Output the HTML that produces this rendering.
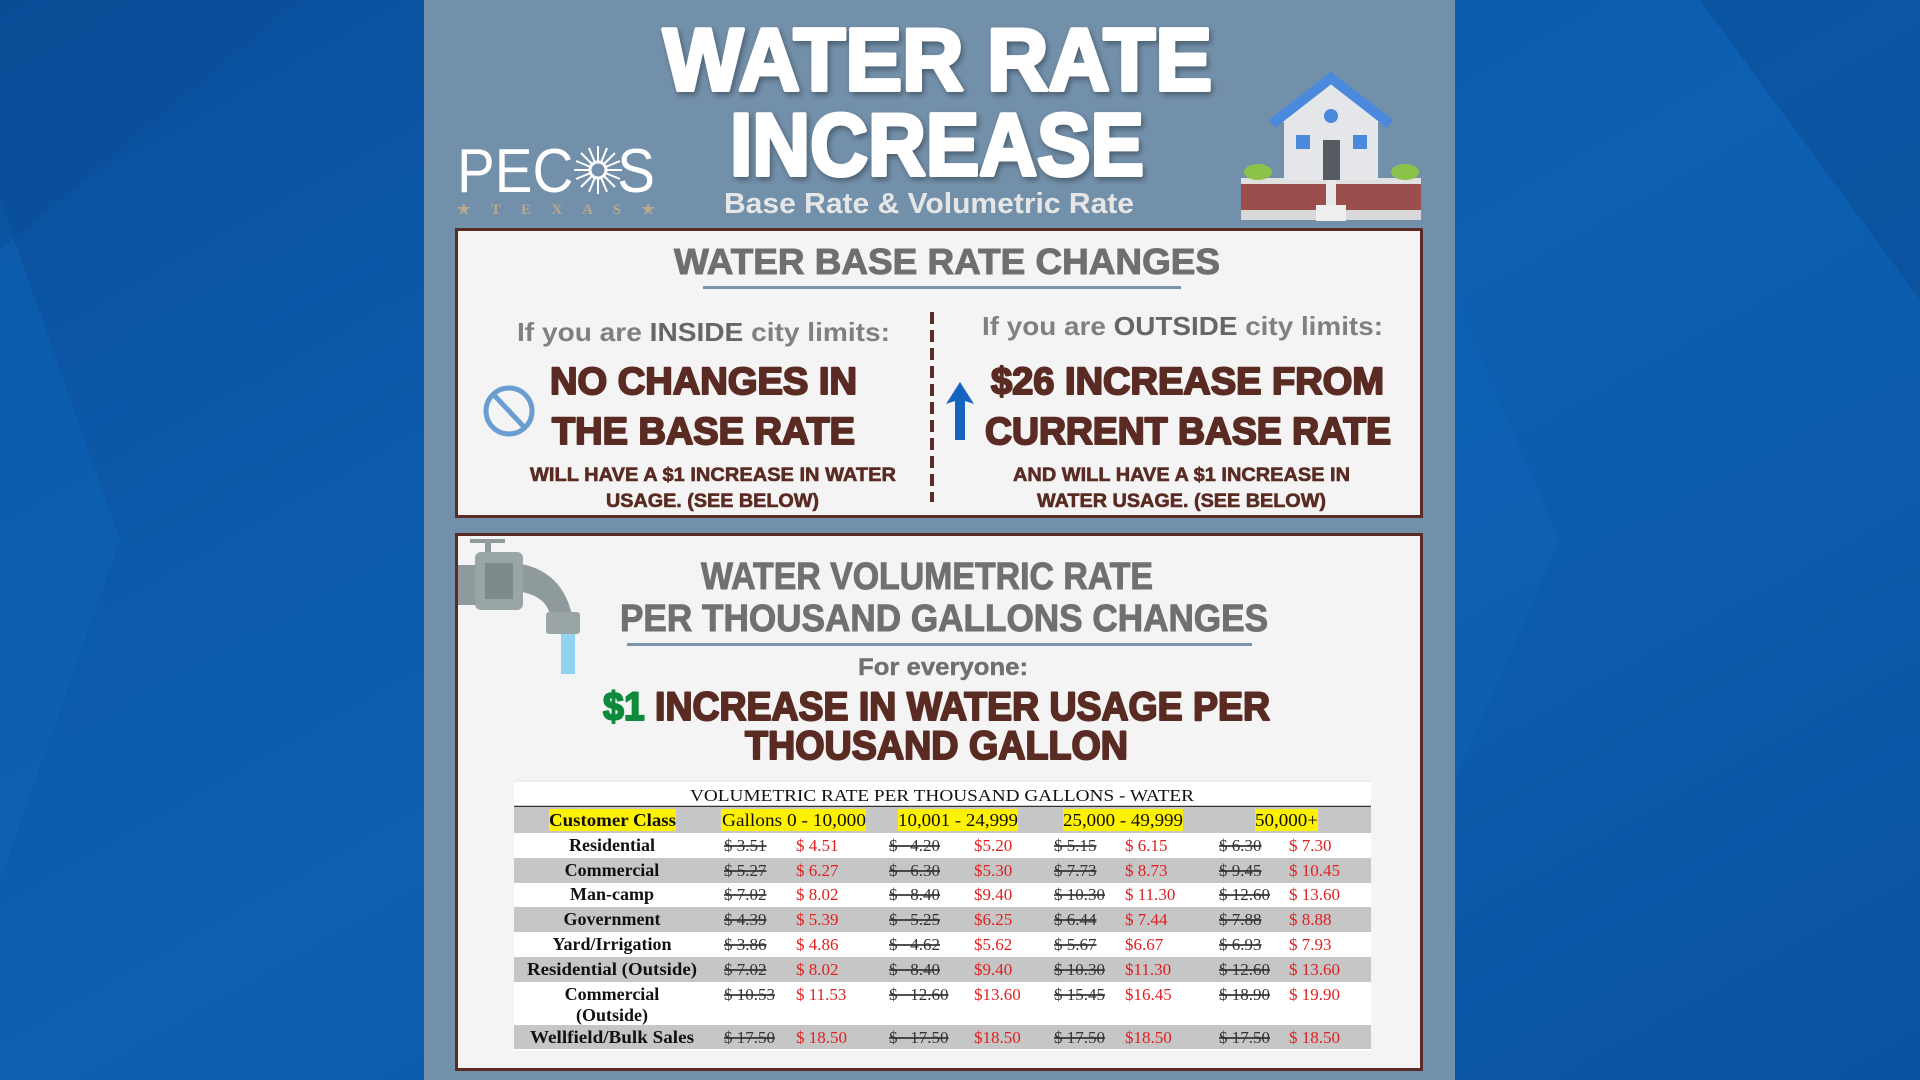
<!DOCTYPE html>
<html><head><meta charset="utf-8"><style>
html,body{margin:0;padding:0;width:1920px;height:1080px;overflow:hidden;background:#0b5cab}
svg{display:block}
text{font-family:"Liberation Sans",sans-serif;font-weight:bold}
.s text,text.s{font-family:"Liberation Serif",serif}
.n text,text.n{font-weight:normal}
</style></head><body>
<svg width="1920" height="1080" viewBox="0 0 1920 1080" xmlns="http://www.w3.org/2000/svg">
<defs>
<linearGradient id="bg" x1="0" y1="0" x2="1" y2="1"><stop offset="0" stop-color="#0a4f9c"/><stop offset=".5" stop-color="#0d60b2"/><stop offset="1" stop-color="#0a52a0"/></linearGradient>
<filter id="sh"><feDropShadow dx="2" dy="3" stdDeviation="3" flood-color="#000" flood-opacity=".35"/></filter>
</defs>
<rect width="1920" height="1080" fill="url(#bg)"/>
<polygon points="0,200 120,540 0,880" fill="#0e63b8" opacity=".5"/>
<polygon points="1455,300 1560,540 1455,780" fill="#0e63b8" opacity=".5"/>
<polygon points="1700,0 1920,0 1920,300" fill="#0a4a92" opacity=".5"/>
<polygon points="0,0 300,0 0,250" fill="#0a4a92" opacity=".4"/>
<rect x="424" y="0" width="1031" height="1080" fill="#7390aa"/>
<g filter="url(#sh)" fill="#fff" stroke="#fff" stroke-width="4" stroke-linejoin="round">
<text x="663" y="90" font-size="88" textLength="549" lengthAdjust="spacingAndGlyphs">WATER RATE</text>
<text x="730" y="175" font-size="88" textLength="414" lengthAdjust="spacingAndGlyphs">INCREASE</text>
</g>
<text x="724" y="213" font-size="29" fill="#e6e6e6" textLength="410" lengthAdjust="spacingAndGlyphs">Base Rate &amp; Volumetric Rate</text>
<text x="457" y="192" font-size="62" fill="#fff" class="n" textLength="198" lengthAdjust="spacingAndGlyphs">PECOS</text>
<circle cx="598" cy="170" r="24" fill="#7390aa"/>
<g stroke="#fff" stroke-width="2">
<line x1="574" y1="170" x2="622" y2="170"/><line x1="598" y1="146" x2="598" y2="194"/>
<line x1="581" y1="153" x2="615" y2="187"/><line x1="615" y1="153" x2="581" y2="187"/>
<line x1="576" y1="161" x2="620" y2="179"/><line x1="576" y1="179" x2="620" y2="161"/>
<line x1="589" y1="148" x2="607" y2="192"/><line x1="607" y1="148" x2="589" y2="192"/>
</g>
<circle cx="598" cy="170" r="8" fill="#7390aa" stroke="#fff" stroke-width="3"/>
<text x="457" y="214" font-size="15" fill="#bba78c" class="s" textLength="198" lengthAdjust="spacing">★ T E X A S ★</text>
<rect x="1241" y="182" width="180" height="32" fill="#9b4f4c"/>
<rect x="1241" y="210" width="180" height="10" fill="#d8d8d8"/>
<rect x="1241" y="178" width="180" height="6" fill="#e0e0e0"/>
<ellipse cx="1258" cy="172" rx="14" ry="8" fill="#8bc34a"/>
<ellipse cx="1405" cy="172" rx="14" ry="8" fill="#8bc34a"/>
<rect x="1284" y="120" width="94" height="60" fill="#e4e6ea"/>
<polygon points="1331,80 1281,122 1381,122" fill="#e4e6ea"/>
<polyline points="1272,124 1331,78 1390,124" fill="none" stroke="#4a89dc" stroke-width="10"/>
<circle cx="1331" cy="116" r="7" fill="#4a89dc"/>
<rect x="1296" y="135" width="14" height="14" fill="#4a89dc"/>
<rect x="1353" y="135" width="14" height="14" fill="#4a89dc"/>
<rect x="1323" y="140" width="17" height="40" fill="#555b63"/>
<rect x="1326" y="180" width="10" height="28" fill="#e8e8e8"/>
<rect x="1316" y="205" width="30" height="16" fill="#eee"/>
<rect x="456.5" y="229.5" width="965" height="287" fill="#f4f4f4" stroke="#5b2b26" stroke-width="3"/>
<text x="674" y="274" font-size="36" fill="#6f6f6f" stroke="#6f6f6f" stroke-width="1" textLength="546" lengthAdjust="spacingAndGlyphs">WATER BASE RATE CHANGES</text>
<rect x="703" y="286" width="478" height="3" fill="#7b93ab"/>
<line x1="932" y1="312" x2="932" y2="502" stroke="#5b2b26" stroke-width="4" stroke-dasharray="12,6"/>
<text x="517" y="341" font-size="26" fill="#808080" textLength="373" lengthAdjust="spacingAndGlyphs">If you are <tspan fill="#666">INSIDE</tspan> city limits:</text>
<text x="982" y="335" font-size="26" fill="#808080" textLength="401" lengthAdjust="spacingAndGlyphs">If you are <tspan fill="#666">OUTSIDE</tspan> city limits:</text>
<g fill="#5a2b22" stroke="#5a2b22" stroke-linejoin="round">
<text x="550" y="394" font-size="38" stroke-width="2" textLength="307" lengthAdjust="spacingAndGlyphs">NO CHANGES IN</text>
<text x="552" y="444" font-size="38" stroke-width="2" textLength="303" lengthAdjust="spacingAndGlyphs">THE BASE RATE</text>
<text x="991" y="394" font-size="38" stroke-width="2" textLength="393" lengthAdjust="spacingAndGlyphs">$26 INCREASE FROM</text>
<text x="985" y="444" font-size="38" stroke-width="2" textLength="406" lengthAdjust="spacingAndGlyphs">CURRENT BASE RATE</text>
<text x="530" y="481" font-size="19" stroke-width=".6" textLength="366" lengthAdjust="spacingAndGlyphs">WILL HAVE A $1 INCREASE IN WATER</text>
<text x="606" y="507" font-size="19" stroke-width=".6" textLength="213" lengthAdjust="spacingAndGlyphs">USAGE. (SEE BELOW)</text>
<text x="1013" y="481" font-size="19" stroke-width=".6" textLength="337" lengthAdjust="spacingAndGlyphs">AND WILL HAVE A $1 INCREASE IN</text>
<text x="1037" y="507" font-size="19" stroke-width=".6" textLength="289" lengthAdjust="spacingAndGlyphs">WATER USAGE. (SEE BELOW)</text>
</g>
<circle cx="509" cy="411" r="23" fill="none" stroke="#6a9ed0" stroke-width="5"/>
<line x1="494" y1="395" x2="524" y2="427" stroke="#6a9ed0" stroke-width="5"/>
<polygon points="960,382 946,404 955,401 955,440 965,440 965,401 974,404" fill="#1565c0"/>
<rect x="456.5" y="534.5" width="965" height="535" fill="#f4f4f4" stroke="#5b2b26" stroke-width="3"/>
<rect x="470" y="539" width="35" height="4" fill="#8f9a9c"/>
<rect x="485" y="539" width="6" height="14" fill="#8f9a9c"/>
<rect x="458" y="565" width="30" height="40" fill="#8f9a9c"/>
<path d="M500 562 Q560 562 572 615 L550 615 Q545 590 500 590 Z" fill="#8f9a9c"/>
<rect x="475" y="552" width="48" height="58" rx="6" fill="#9aa5a7"/>
<rect x="485" y="563" width="28" height="36" fill="#7f8a8c"/>
<rect x="546" y="612" width="34" height="22" rx="3" fill="#9aa5a7"/>
<rect x="561" y="634" width="14" height="40" fill="#8fd3f0"/>
<g fill="#707070" stroke="#707070">
<text x="701" y="589" font-size="38" stroke-width="1" textLength="452" lengthAdjust="spacingAndGlyphs">WATER VOLUMETRIC RATE</text>
<text x="620" y="631" font-size="38" stroke-width="1" textLength="648" lengthAdjust="spacingAndGlyphs">PER THOUSAND GALLONS CHANGES</text>
<text x="858" y="675" font-size="24" stroke-width=".4" textLength="170" lengthAdjust="spacingAndGlyphs">For everyone:</text>
</g>
<rect x="627" y="643" width="625" height="3" fill="#7b93ab"/>
<g font-size="40" fill="#5a2b22" stroke="#5a2b22" stroke-width="2" stroke-linejoin="round">
<text x="603" y="720" textLength="667" lengthAdjust="spacingAndGlyphs"><tspan fill="#0f8a3c" stroke="#0f8a3c">$1</tspan> INCREASE IN WATER USAGE PER</text>
<text x="745" y="759" textLength="383" lengthAdjust="spacingAndGlyphs">THOUSAND GALLON</text>
</g>
<rect x="514" y="780" width="857" height="271" fill="#fff"/>
<line x1="514" y1="781" x2="1371" y2="781" stroke="#ddd"/>
<g class="s n"><text x="942" y="801" font-size="17" text-anchor="middle" fill="#111" textLength="504" lengthAdjust="spacingAndGlyphs">VOLUMETRIC RATE PER THOUSAND GALLONS - WATER</text></g>
<line x1="514" y1="806.5" x2="1371" y2="806.5" stroke="#333" stroke-width="1.5"/>
<g fill="#c6c6c6">
<rect x="514" y="807" width="857" height="26"/>
<rect x="514" y="858" width="857" height="25"/>
<rect x="514" y="907" width="857" height="25"/>
<rect x="514" y="957" width="857" height="25"/>
<rect x="514" y="1025" width="857" height="24"/>
</g>
<g fill="#fff200">
<rect x="549" y="809" width="127" height="22"/>
<rect x="721" y="809" width="145" height="22"/>
<rect x="898" y="809" width="120" height="22"/>
<rect x="1063" y="809" width="120" height="22"/>
<rect x="1255" y="809" width="63" height="22"/>
</g>
<g class="s" font-size="18" fill="#111">
<text x="549" y="826" textLength="127" lengthAdjust="spacingAndGlyphs">Customer Class</text>
<g class="n">
<text x="722" y="826" textLength="144" lengthAdjust="spacingAndGlyphs">Gallons 0 - 10,000</text>
<text x="898" y="826" textLength="120" lengthAdjust="spacingAndGlyphs">10,001 - 24,999</text>
<text x="1063" y="826" textLength="120" lengthAdjust="spacingAndGlyphs">25,000 - 49,999</text>
<text x="1255" y="826" textLength="63" lengthAdjust="spacingAndGlyphs">50,000+</text>
</g>
<g text-anchor="middle">
<text x="612" y="851">Residential</text>
<text x="612" y="876">Commercial</text>
<text x="612" y="900">Man-camp</text>
<text x="612" y="925">Government</text>
<text x="612" y="950">Yard/Irrigation</text>
<text x="612" y="975" textLength="170" lengthAdjust="spacingAndGlyphs">Residential (Outside)</text>
<text x="612" y="1000">Commercial</text>
<text x="612" y="1021">(Outside)</text>
<text x="612" y="1043" textLength="164" lengthAdjust="spacingAndGlyphs">Wellfield/Bulk Sales</text>
</g>
</g>
<g class="s n" font-size="17">
<g fill="#333" text-decoration="line-through">
<text x="724" y="851">$ 3.51</text><text x="889" y="851">$ &#160;&#160;4.20</text><text x="1054" y="851">$ 5.15</text><text x="1219" y="851">$ 6.30</text>
<text x="724" y="876">$ 5.27</text><text x="889" y="876">$ &#160;&#160;6.30</text><text x="1054" y="876">$ 7.73</text><text x="1219" y="876">$ 9.45</text>
<text x="724" y="900">$ 7.02</text><text x="889" y="900">$ &#160;&#160;8.40</text><text x="1054" y="900">$ 10.30</text><text x="1219" y="900">$ 12.60</text>
<text x="724" y="925">$ 4.39</text><text x="889" y="925">$ &#160;&#160;5.25</text><text x="1054" y="925">$ 6.44</text><text x="1219" y="925">$ 7.88</text>
<text x="724" y="950">$ 3.86</text><text x="889" y="950">$ &#160;&#160;4.62</text><text x="1054" y="950">$ 5.67</text><text x="1219" y="950">$ 6.93</text>
<text x="724" y="975">$ 7.02</text><text x="889" y="975">$ &#160;&#160;8.40</text><text x="1054" y="975">$ 10.30</text><text x="1219" y="975">$ 12.60</text>
<text x="724" y="1000">$ 10.53</text><text x="889" y="1000">$ &#160;&#160;12.60</text><text x="1054" y="1000">$ 15.45</text><text x="1219" y="1000">$ 18.90</text>
<text x="724" y="1043">$ 17.50</text><text x="889" y="1043">$ &#160;&#160;17.50</text><text x="1054" y="1043">$ 17.50</text><text x="1219" y="1043">$ 17.50</text>
</g>
<g fill="#e02020">
<text x="796" y="851">$ 4.51</text><text x="974" y="851">$5.20</text><text x="1125" y="851">$ 6.15</text><text x="1289" y="851">$ 7.30</text>
<text x="796" y="876">$ 6.27</text><text x="974" y="876">$5.30</text><text x="1125" y="876">$ 8.73</text><text x="1289" y="876">$ 10.45</text>
<text x="796" y="900">$ 8.02</text><text x="974" y="900">$9.40</text><text x="1125" y="900">$ 11.30</text><text x="1289" y="900">$ 13.60</text>
<text x="796" y="925">$ 5.39</text><text x="974" y="925">$6.25</text><text x="1125" y="925">$ 7.44</text><text x="1289" y="925">$ 8.88</text>
<text x="796" y="950">$ 4.86</text><text x="974" y="950">$5.62</text><text x="1125" y="950">$6.67</text><text x="1289" y="950">$ 7.93</text>
<text x="796" y="975">$ 8.02</text><text x="974" y="975">$9.40</text><text x="1125" y="975">$11.30</text><text x="1289" y="975">$ 13.60</text>
<text x="796" y="1000">$ 11.53</text><text x="974" y="1000">$13.60</text><text x="1125" y="1000">$16.45</text><text x="1289" y="1000">$ 19.90</text>
<text x="796" y="1043">$ 18.50</text><text x="974" y="1043">$18.50</text><text x="1125" y="1043">$18.50</text><text x="1289" y="1043">$ 18.50</text>
</g>
</g>
</svg>
</body></html>
